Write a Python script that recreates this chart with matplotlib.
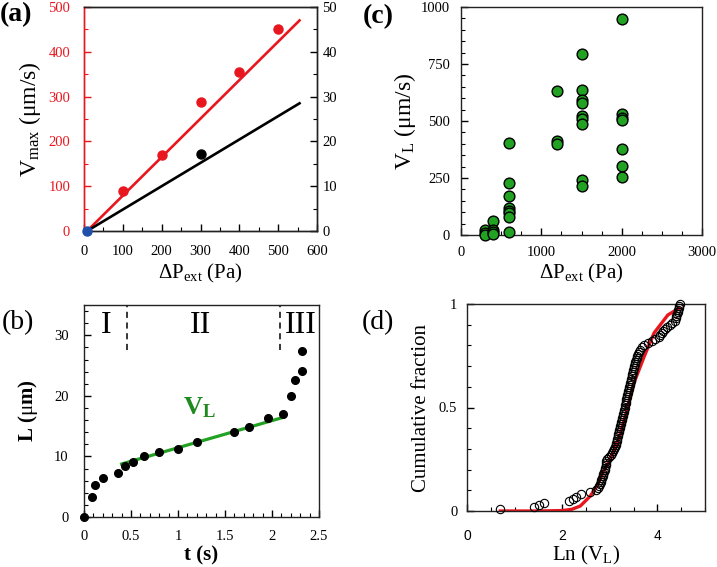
import numpy as np
import matplotlib
matplotlib.use('Agg')
import matplotlib.pyplot as plt
from matplotlib.ticker import MultipleLocator

# ---------------- data ----------------
# (a)
pressure_a = [100, 200, 300, 400, 500]
vmax_red = [90, 169, 287, 355, 450]
pressure_black = [300]
vmax_black = [17.2]          # right axis units
origin_x = [8]
origin_y = [0]
fit_x = [8, 555]
fit_red_y = [0, 470]
fit_black_y = [0, 28.5]      # right axis units

# (b)
t_s = [0.0, 0.09, 0.12, 0.20, 0.36, 0.44, 0.52, 0.64, 0.80, 1.00, 1.20, 1.60,
       1.76, 1.96, 2.12, 2.20, 2.24, 2.32, 2.32]
L_um = [0.0, 3.3, 5.3, 6.5, 7.2, 8.4, 9.0, 10.1, 10.7, 11.3, 12.4, 14.0,
        14.9, 16.3, 16.95, 19.9, 22.7, 24.1, 27.4]
vl_fit_t = [0.40, 2.12]
vl_fit_L = [8.75, 16.45]
phase_bounds = [0.46, 2.09]
phase_names = ['I', 'II', 'III']
phase_label_t = [0.24, 1.24, 2.31]

# (c)
pressure_c = [300, 300, 300,
              400, 400, 400, 400,
              600, 600, 600, 600, 600, 600, 600, 600,
              1200, 1200, 1200,
              1500, 1500, 1500, 1500, 1500, 1500, 1500, 1500, 1500,
              2000, 2000, 2000, 2000, 2000, 2000, 2000]
vl_c = [20, 9, 2,
        62, 24, 12, 4,
        404, 228, 171, 120, 107, 95, 80, 12,
        630, 411, 399,
        793, 638, 591, 580, 521, 510, 485, 242, 214,
        946, 532, 514, 503, 378, 304, 255]

# (d)
ln_vl = [0.70, 1.40, 1.52, 1.62, 2.15, 2.22, 2.30, 2.40, 2.59, 2.70,
         2.76, 2.78, 2.80, 2.81, 2.82, 2.84, 2.85, 2.86, 2.87, 2.89,
         2.90, 2.91, 2.92, 2.93, 2.95, 2.98, 3.02, 3.05, 3.07, 3.09,
         3.11, 3.13, 3.14, 3.15, 3.16, 3.17, 3.18, 3.19, 3.20, 3.21,
         3.22, 3.23, 3.24, 3.25, 3.26, 3.27, 3.28, 3.29, 3.30, 3.31,
         3.32, 3.33, 3.34, 3.35, 3.36, 3.37, 3.38, 3.39, 3.40, 3.41,
         3.42, 3.43, 3.44, 3.45, 3.46, 3.47, 3.48, 3.49, 3.50, 3.51,
         3.52, 3.53, 3.55, 3.57, 3.58, 3.60, 3.62, 3.64, 3.67, 3.72,
         3.80, 3.88, 3.96, 4.03, 4.06, 4.09, 4.12, 4.15, 4.20, 4.27,
         4.31, 4.36, 4.39, 4.40, 4.42, 4.43, 4.44, 4.45, 4.46, 4.47]
fit_ln = [0.70, 1.50, 2.00, 2.20, 2.38, 2.59, 2.73, 2.87, 3.05, 3.19,
          3.35, 3.51, 3.72, 3.93, 4.22, 4.46]
fit_cdf = [0.0, 0.0, 0.002, 0.008, 0.024, 0.072, 0.121, 0.19, 0.27, 0.35,
           0.48, 0.62, 0.745, 0.86, 0.947, 0.98]

# ---------------- style ----------------
plt.rcParams['font.family'] = ['Liberation Serif', 'DejaVu Serif']
plt.rcParams['mathtext.fontset'] = 'custom'
plt.rcParams['mathtext.rm'] = 'Liberation Serif'
plt.rcParams['mathtext.it'] = 'Liberation Serif:italic'
plt.rcParams['mathtext.bf'] = 'Liberation Serif:bold'

RED = '#e8161e'
GREEN = '#22a222'
W, H = 717, 567
fig = plt.figure(figsize=(W / 100, H / 100), dpi=100)


def axes_px(l, t, r, b):
    ax = fig.add_axes([l / W, 1 - b / H, (r - l) / W, (b - t) / H])
    ax._px = (r - l, b - t)
    return ax


def style_ticks(ax, size=10.5, xpad=9, ypad=9):
    ax.tick_params(which='both', direction='in', labelsize=size)
    ax.tick_params(which='major', length=5, width=1)
    ax.tick_params(which='minor', length=3, width=0.8)
    ax.tick_params(axis='x', which='both', pad=xpad)
    ax.tick_params(axis='y', which='both', pad=ypad)
    for s in ax.spines.values():
        s.set_linewidth(1.0)
        s.set_color('#222222')


def place_labels(ax, xdist, ydist):
    wpx, hpx = ax._px
    ax.xaxis.set_label_coords(0.5, -xdist / hpx)
    ax.xaxis.label.set_verticalalignment('center')
    ax.yaxis.set_label_coords(-ydist / wpx, 0.5)
    ax.yaxis.label.set_verticalalignment('center')


# ---------------- (a) ----------------
ax = axes_px(84, 7, 317, 231)
ax2 = ax.twinx()
ax.set_xlim(0, 600)
ax.set_ylim(0, 500)
ax2.set_ylim(0, 50)
ax.plot(fit_x, fit_red_y, color=RED, lw=1.9, zorder=3)
ax2.plot(fit_x, fit_black_y, color='black', lw=1.9, zorder=3)
ax.plot(pressure_a, vmax_red, 'o', color=RED, ms=6.5, zorder=4)
ax2.plot(pressure_black, vmax_black, 'o', color='black', ms=6.5, zorder=4)
ax2.plot(origin_x, origin_y, 'o', color='#1f4fa8', ms=6.5, zorder=5, clip_on=False)
style_ticks(ax, xpad=10, ypad=10)
style_ticks(ax2, ypad=4)
ax.xaxis.set_major_locator(MultipleLocator(100))
ax.xaxis.set_minor_locator(MultipleLocator(50))
ax.yaxis.set_major_locator(MultipleLocator(100))
ax.yaxis.set_minor_locator(MultipleLocator(50))
ax2.yaxis.set_major_locator(MultipleLocator(10))
ax2.yaxis.set_minor_locator(MultipleLocator(5))
ax.tick_params(axis='y', which='both', colors=RED)
ax2.spines['left'].set_color(RED)
ax.spines['left'].set_color(RED)
ax.set_xlabel(r'$\Delta$P$_{\mathrm{ext}}$ (Pa)', fontsize=15)
ax.set_ylabel(r'V$_{\mathrm{max}}$ ($\mathrm{\mu}$m/s)', fontsize=17)
place_labels(ax, 42, 54)
fig.text(0 / W, 1 - 15 / H, '(a)', fontsize=20, fontweight='bold', va='center', ha='left')

# ---------------- (c) ----------------
ax = axes_px(461, 7, 702, 235)
ax.set_xlim(0, 3000)
ax.set_ylim(0, 1000)
ax.scatter(pressure_c, vl_c, s=60, color=GREEN, edgecolor='black', linewidth=1.0,
           zorder=3, clip_on=False)
style_ticks(ax, xpad=8, ypad=8)
ax.xaxis.set_major_locator(MultipleLocator(1000))
ax.xaxis.set_minor_locator(MultipleLocator(250))
ax.yaxis.set_major_locator(MultipleLocator(250))
ax.yaxis.set_minor_locator(MultipleLocator(50))
ax.set_xlabel(r'$\Delta$P$_{\mathrm{ext}}$ (Pa)', fontsize=15)
ax.set_ylabel(r'V$_{\mathrm{L}}$ ($\mathrm{\mu}$m/s)', fontsize=17)
place_labels(ax, 38, 56)
fig.text(363 / W, 1 - 17 / H, '(c)', fontsize=20, fontweight='bold', va='center', ha='left')

# ---------------- (b) ----------------
ax = axes_px(84, 305, 319, 517)
ax.set_xlim(0, 2.5)
ax.set_ylim(0, 35)
ax.plot(vl_fit_t, vl_fit_L, color=GREEN, lw=2.3, zorder=2)
ax.plot(t_s, L_um, 'o', color='black', ms=5.5, zorder=3, clip_on=False)
for xb in phase_bounds:
    ax.plot([xb, xb], [27.6, 35], color='black', lw=1.1, ls=(0, (4, 3)))
for name, xt in zip(phase_names, phase_label_t):
    ax.text(xt, 31.6, name, fontsize=23, ha='center', va='center')
ax.text(1.23, 18.0, r'$\mathbf{V}_{\mathbf{L}}$', color='#1f8a1f', fontsize=19,
        ha='center', va='center')
style_ticks(ax, xpad=9, ypad=11)
ax.set_xticks([0, 0.5, 1, 1.5, 2, 2.5])
ax.set_xticklabels(['0', '0.5', '1', '1.5', '2', '2.5'])
ax.xaxis.set_minor_locator(MultipleLocator(0.1))
ax.yaxis.set_major_locator(MultipleLocator(10))
ax.yaxis.set_minor_locator(MultipleLocator(2))
ax.set_xlabel('t (s)', fontsize=15, fontweight='bold')
ax.set_ylabel(r'L ($\mathrm{\mu}$m)', fontsize=15, fontweight='bold')
place_labels(ax, 38, 56)
fig.text(2 / W, 1 - 323 / H, '(b)', fontsize=20, va='center', ha='left')

# ---------------- (d) ----------------
ax = axes_px(467, 304, 705, 511)
ax.set_xlim(0, 5)
ax.set_ylim(0, 1)
cum_frac = np.arange(1, len(ln_vl) + 1) / len(ln_vl)
ax.plot(fit_ln, fit_cdf, color=RED, lw=2.4, zorder=2)
ax.plot(ln_vl, cum_frac, 'o', mfc='none', mec='black', mew=0.8, ms=6, zorder=3,
        clip_on=False)
style_ticks(ax, xpad=13, ypad=7)
ax.xaxis.set_major_locator(MultipleLocator(2))
ax.xaxis.set_minor_locator(MultipleLocator(0.5))
ax.set_yticks([0, 0.5, 1])
ax.set_yticklabels(['0', '0.5', '1'])
ax.yaxis.set_minor_locator(MultipleLocator(0.1))
for lbl in ax.get_xticklabels():
    lbl.set_fontfamily('Liberation Sans')
    lbl.set_fontsize(10)
ax.set_xlabel(r'Ln (V$_{\mathrm{L}}$)', fontsize=15)
ax.set_ylabel('Cumulative fraction', fontsize=15)
place_labels(ax, 44, 45)
fig.text(362 / W, 1 - 323 / H, '(d)', fontsize=20, va='center', ha='left')

fig.savefig('out.png', dpi=100)
